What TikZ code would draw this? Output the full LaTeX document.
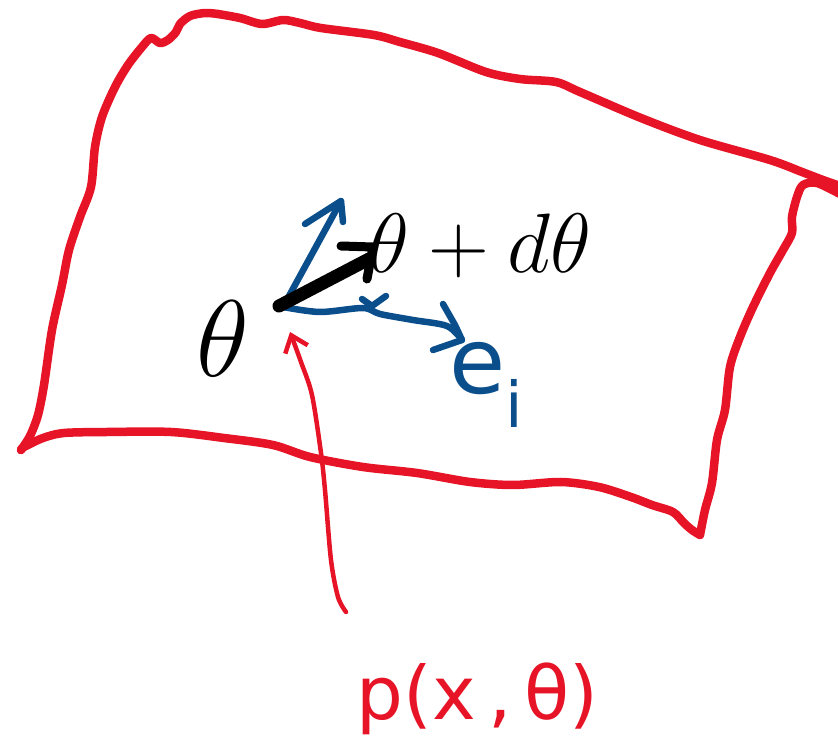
\RequirePackage{fix-cm}
\documentclass[tikz,border=0pt]{standalone}
\usepackage{fontspec}
\usepackage{tikz}
\usepackage{xcolor}
\usetikzlibrary{arrows.meta}
\newfontfamily\handfont{DejaVu Sans}
\definecolor{Marker}{HTML}{E61426}
\definecolor{Pen}{HTML}{0A4F8C}
\definecolor{Ink}{HTML}{000000}
\tikzset{
  rim/.style={draw=Marker,line width=0.85mm,line cap=round,line join=round},
  pointer/.style={draw=Marker,line width=0.45mm,line cap=round,line join=round,-{Straight Barb[length=1.5mm,width=2.4mm]}},
  vec/.style={draw=Pen,line width=0.65mm,line cap=round,line join=round},
  dvec/.style={draw=Ink,line width=1.3mm,line cap=round,line join=round},
  lbl/.style={inner sep=0pt,anchor=base west,text=Ink},
  hand/.style={inner sep=0pt,anchor=base west,font=\handfont}
}

\begin{document}
\begin{tikzpicture}[x=0.1mm,y=-0.1mm]
  \useasboundingbox (0,0) rectangle (838,741);
  \draw[rim] plot[smooth] coordinates {(21,450) (30,436) (38,415) (44,385) (52,330) (62,285) (69,250) (80,217) (91,187) (95,147) (102,117) (115,87) (128,65) (142,47) (151,38) (160,43) (168,40) (176,32) (180,24) (190,16) (205,13) (218,14)};
  \draw[rim] plot[smooth] coordinates {(218,14) (240,18) (262,24) (283,20) (300,23) (321,28) (374,35) (400,42) (438,53) (486,72) (520,79) (556,82) (580,92) (641,118) (700,140) (770,160) (802,172) (823,180) (840,186)};
  \draw[rim] plot[smooth] coordinates {(840,194) (817,183) (803,185) (797,197) (792,217) (792,233) (783,250) (770,273) (753,307) (740,337) (730,367) (725,410) (717,440) (712,483) (705,510) (700,535)};
  \draw[rim] plot[smooth] coordinates {(700,535) (692,530) (684,523) (673,512) (652,505) (631,497) (599,487) (561,482) (513,485) (470,482) (417,473) (363,467) (310,457) (273,445) (224,438) (171,432) (107,432) (64,433) (43,438) (24,447) (21,450)};

  \coordinate (o) at (283,307);
  \coordinate (up) at (341,201);
  \coordinate (ei) at (462,340);
  \coordinate (dt) at (373,247);
  \coordinate (foot) at (346,612);

  \node[lbl,font=\fontsize{31}{31}\selectfont] (th) at (196,377) {$\theta$};
  \node[lbl,font=\fontsize{24}{24}\selectfont] (tdt) at (368,273) {$\theta+d\theta$};

  \draw[vec] (o) -- (up);
  \draw[vec] (305,224) -- (up) -- (343,222);
  \draw[vec] plot[smooth] coordinates {(o) (320,312) (363,308) (380,314) (413,320) (447,326) (ei)};
  \draw[vec] (443,304) -- (455,325) -- (ei) -- (433,350);
  \draw[vec] (362,299) -- (372,306) -- (386,296);

  \draw[dvec] (279,306) -- (369,259);
  \draw[Ink,line width=0.9mm,line cap=round,line join=round] (341,246) -- (dt) -- (367,279);

  \node[hand,text=Pen,font=\handfont\fontsize{26}{26}\selectfont] (eilbl) at (449,394) {e\raisebox{-3.4mm}{\fontsize{18}{18}\selectfont i}};

  \draw[pointer] plot[smooth] coordinates {(foot) (338,597) (331,560) (325,490) (321,453) (312,395) (301,362) (290,332)};
  \node[hand,text=Marker,font=\handfont\fontsize{21}{21}\selectfont] (px) at (356,720) {p(x\,,\,θ)};
\end{tikzpicture}
\end{document}
